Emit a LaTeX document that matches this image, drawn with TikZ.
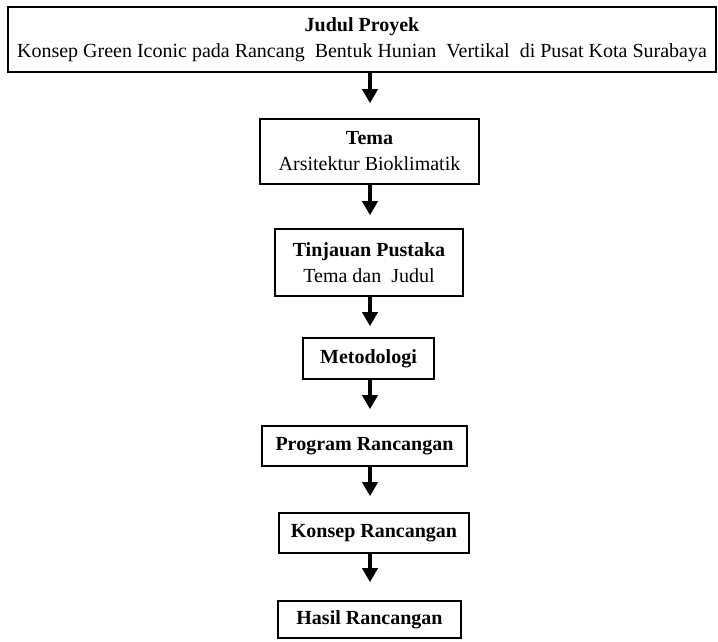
\documentclass[tikz,border=0pt]{standalone}
\usepackage{fontspec}
\setmainfont{Liberation Serif}
\usetikzlibrary{arrows.meta}
\begin{document}
\begin{tikzpicture}[x=1pt,y=-1pt,
  box/.style={draw=black,line width=1.6pt,inner sep=0pt,align=center,
    font=\fontsize{20}{26}\selectfont},
  flow/.style={line width=4.5pt,-{Triangle[width=15pt,length=14pt]}}]
\useasboundingbox (0,0) rectangle (718,641);
\node[box,minimum width=708pt,minimum height=65pt] (judul) at (362,39.5)
  {\textbf{Judul Proyek}\\Konsep Green Iconic pada Rancang\ \ Bentuk Hunian\ \ Vertikal\ \ di Pusat Kota Surabaya};
\node[box,minimum width=219pt,minimum height=65pt] (tema) at (369.5,151.5)
  {\textbf{Tema}\\Arsitektur Bioklimatik};
\node[box,minimum width=188pt,minimum height=67pt] (tinjauan) at (369,262.5)
  {\textbf{Tinjauan Pustaka}\\Tema dan\ \ Judul};
\node[box,minimum width=131pt,minimum height=41pt] (metodologi) at (368.5,358.5)
  {\textbf{Metodologi}};
\node[box,minimum width=205pt,minimum height=40pt] (program) at (364.5,446)
  {\textbf{Program\ Rancangan}};
\node[box,minimum width=190pt,minimum height=40pt] (konsep) at (374,533)
  {\textbf{Konsep Rancangan}};
\node[box,minimum width=183pt,minimum height=37pt] (hasil) at (369.5,619.5)
  {\textbf{Hasil Rancangan}};
\coordinate (ax) at (370,0);
\draw[flow,shorten >=15pt] (judul.south -| ax) -- (tema.north -| ax);
\draw[flow,shorten >=13pt] (tema.south -| ax) -- (tinjauan.north -| ax);
\draw[flow,shorten >=11pt] (tinjauan.south -| ax) -- (metodologi.north -| ax);
\draw[flow,shorten >=16pt] (metodologi.south -| ax) -- (program.north -| ax);
\draw[flow,shorten >=16pt] (program.south -| ax) -- (konsep.north -| ax);
\draw[flow,shorten >=18pt] (konsep.south -| ax) -- (hasil.north -| ax);
\end{tikzpicture}
\end{document}
